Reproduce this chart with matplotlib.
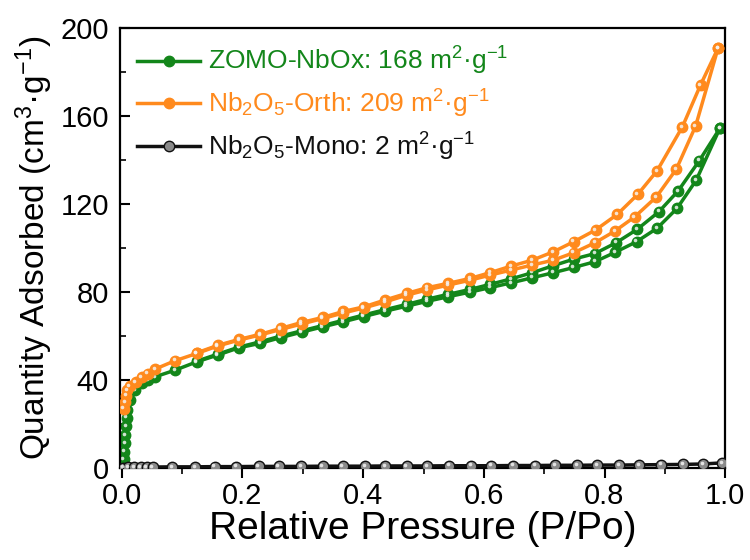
import matplotlib
matplotlib.use("Agg")
import matplotlib.pyplot as plt
from matplotlib.transforms import offset_copy
from matplotlib.ticker import MultipleLocator

plt.rcParams['font.family'] = ['Liberation Sans', 'DejaVu Sans']
plt.rcParams['mathtext.fontset'] = 'custom'
plt.rcParams['mathtext.rm'] = 'Liberation Sans'
plt.rcParams['mathtext.it'] = 'Liberation Sans:italic'

# ---------------- data ----------------
# ZOMO-NbOx adsorption
zomo_ads_p = [0.002, 0.003, 0.004, 0.005, 0.006, 0.007, 0.008, 0.009, 0.013, 0.022, 0.033, 0.044,
              0.055, 0.088, 0.124, 0.159, 0.194, 0.229, 0.263, 0.298, 0.333, 0.367, 0.401, 0.436,
              0.472, 0.506, 0.541, 0.577, 0.610, 0.645, 0.680, 0.715, 0.749, 0.784, 0.817, 0.853,
              0.887, 0.920, 0.952, 0.991]
zomo_ads_q = [0.5, 4.0, 7.5, 11.5, 15.0, 19.0, 23.0, 26.5, 31.0, 35.5, 38.5, 40.0,
              41.5, 44.5, 48.3, 51.4, 54.7, 56.7, 59.3, 61.8, 64.2, 66.5, 68.9, 71.3,
              73.6, 75.8, 77.9, 80.0, 82.0, 84.2, 86.5, 88.8, 91.2, 93.8, 98.0, 102.9,
              109.0, 118.0, 130.9, 154.4]
# ZOMO-NbOx desorption
zomo_des_p = [0.991, 0.957, 0.922, 0.890, 0.854, 0.819, 0.784, 0.749, 0.715, 0.680, 0.645, 0.610,
              0.577, 0.541, 0.506, 0.472, 0.436, 0.401, 0.367, 0.333, 0.298, 0.263, 0.229, 0.194,
              0.159, 0.124]
zomo_des_q = [154.4, 139.7, 126.0, 116.5, 108.5, 102.4, 97.5, 95.0, 92.0, 88.8, 86.0, 83.5,
              81.2, 79.0, 76.8, 74.4, 72.0, 69.6, 67.2, 64.8, 62.4, 60.0, 57.4, 55.0,
              51.8, 48.6]

# Nb2O5-Orth adsorption
orth_ads_p = [0.003, 0.005, 0.007, 0.009, 0.013, 0.023, 0.033, 0.043, 0.055, 0.088, 0.124, 0.159,
              0.194, 0.229, 0.263, 0.298, 0.333, 0.367, 0.401, 0.436, 0.472, 0.506, 0.541, 0.577,
              0.610, 0.645, 0.680, 0.715, 0.749, 0.784, 0.817, 0.850, 0.886, 0.919, 0.951, 0.988]
orth_ads_q = [27.0, 30.0, 33.0, 35.5, 37.3, 39.2, 41.2, 43.0, 45.0, 48.8, 52.1, 55.5,
              58.2, 60.5, 63.0, 65.5, 68.0, 70.5, 72.8, 75.5, 78.6, 81.0, 83.2, 85.4,
              87.7, 90.0, 92.3, 94.5, 97.9, 102.4, 107.7, 114.2, 123.3, 135.9, 155.5, 190.8]
# Nb2O5-Orth desorption
orth_des_p = [0.988, 0.959, 0.929, 0.887, 0.855, 0.821, 0.785, 0.749, 0.715, 0.680, 0.645, 0.610,
              0.577, 0.541, 0.506, 0.472, 0.436, 0.401, 0.367, 0.333, 0.298, 0.263, 0.229, 0.194,
              0.159, 0.124]
orth_des_q = [190.8, 174.1, 155.1, 135.1, 124.4, 115.3, 108.2, 102.9, 98.3, 94.5, 91.8, 88.8,
              86.2, 84.0, 82.0, 79.4, 76.4, 73.3, 71.2, 68.5, 66.2, 63.5, 60.8, 58.5,
              55.8, 52.4]

# Nb2O5-Mono
mono_p = [0.002, 0.011, 0.021, 0.031, 0.041, 0.051, 0.084, 0.121, 0.154, 0.190, 0.227, 0.260,
          0.297, 0.333, 0.366, 0.403, 0.436, 0.472, 0.506, 0.542, 0.579, 0.612, 0.648, 0.685,
          0.718, 0.754, 0.788, 0.824, 0.857, 0.894, 0.930, 0.963, 0.995]
mono_q = [0.2, 0.3, 0.4, 0.4, 0.5, 0.5, 0.6, 0.6, 0.7, 0.7, 0.8, 0.8,
          0.8, 0.9, 0.9, 0.9, 1.0, 1.0, 1.0, 1.1, 1.1, 1.1, 1.2, 1.2,
          1.3, 1.3, 1.4, 1.4, 1.5, 1.6, 1.7, 1.9, 2.4]

labels = ['ZOMO-NbOx: 168 m$^{2}$·g$^{-1}$',
          'Nb$_{2}$O$_{5}$-Orth: 209 m$^{2}$·g$^{-1}$',
          'Nb$_{2}$O$_{5}$-Mono: 2 m$^{2}$·g$^{-1}$']
x_ticks = [0.0, 0.2, 0.4, 0.6, 0.8, 1.0]
y_ticks = [0, 40, 80, 120, 160, 200]

GREEN = '#13861a'
ORANGE = '#ff8a1d'
BLACK = '#111111'

# ---------------- figure ----------------
fig = plt.figure(figsize=(7.5, 5.6), dpi=100)
ax = fig.add_axes([0.16, 0.164, 0.807, 0.786])

hl = offset_copy(ax.transData, fig=fig, x=-1.3, y=1.3, units='dots')
ms = 7.5
lw = 2.5


def series(p, q, color, face, label=None, z=2):
    ax.plot(p, q, '-o', color=color, lw=lw, ms=ms, mfc=face, mec=color, mew=1.0,
            label=label, zorder=z)
    ax.plot(p, q, 'o', ls='none', ms=2.6, mfc='#f4f4f4', mec='none', alpha=0.85,
            transform=hl, zorder=z + 0.1)


series(zomo_ads_p, zomo_ads_q, GREEN, GREEN, labels[0], z=2)
series(zomo_des_p, zomo_des_q, GREEN, GREEN, None, z=2)
series(orth_ads_p, orth_ads_q, ORANGE, ORANGE, labels[1], z=3)
series(orth_des_p, orth_des_q, ORANGE, ORANGE, None, z=3)
series(mono_p, mono_q, BLACK, '#8a8a8a', labels[2], z=4)

ax.set_xlim(-0.003, 1.0)
ax.set_ylim(0, 200)
ax.set_xticks(x_ticks)
ax.set_xticklabels([f'{v:.1f}' for v in x_ticks])
ax.set_yticks(y_ticks)
ax.xaxis.set_minor_locator(MultipleLocator(0.1))
ax.yaxis.set_minor_locator(MultipleLocator(20))

ax.tick_params(axis='x', which='major', direction='out', length=7, width=1.5,
               labelsize=21, pad=3, top=False)
ax.tick_params(axis='x', which='minor', direction='out', length=4, width=1.2, top=False)
ax.tick_params(axis='y', which='major', direction='in', length=7, width=1.5,
               labelsize=21, pad=8, right=False)
ax.tick_params(axis='y', which='minor', direction='in', length=4, width=1.2, right=False)
for s in ax.spines.values():
    s.set_linewidth(1.6)

ax.set_xlabel('Relative Pressure (P/Po)', fontsize=28, labelpad=1)
ax.set_ylabel('Quantity Adsorbed (cm$^{3}$·g$^{-1}$)', fontsize=24, labelpad=4)

leg = ax.legend(loc='upper left', frameon=False, fontsize=19, handlelength=2.4,
                handletextpad=0.3, labelspacing=0.4, borderaxespad=0.25,
                bbox_to_anchor=(0.0, 1.0))
for txt, c in zip(leg.get_texts(), [GREEN, ORANGE, BLACK]):
    txt.set_color(c)

fig.savefig('out.png', dpi=100)
